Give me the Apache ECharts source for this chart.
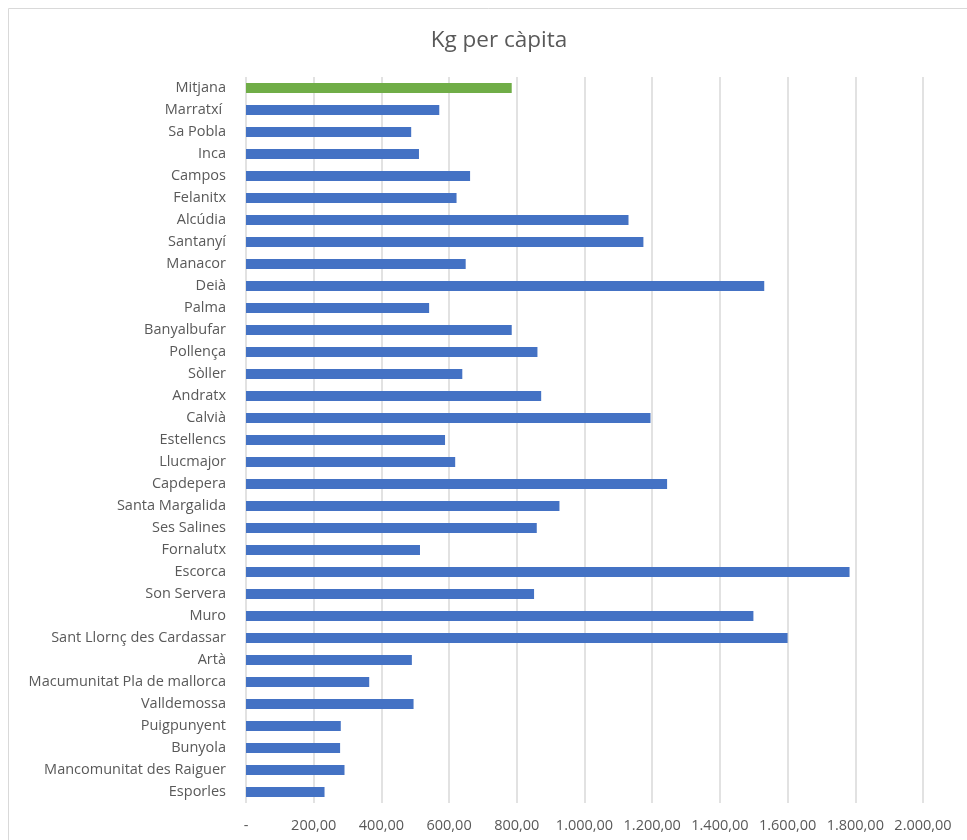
<!DOCTYPE html>
<html>
<head>
<meta charset="utf-8">
<script src="https://cdn.jsdelivr.net/npm/echarts@6/dist/echarts.min.js"></script>
<style>html,body{margin:0;padding:0;background:#fff}#c{width:967px;height:840px}</style>
</head>
<body>
<div id="c"></div>
<script>
const categories = ["Mitjana","Marratxí ","Sa Pobla","Inca","Campos","Felanitx","Alcúdia","Santanyí","Manacor","Deià","Palma","Banyalbufar","Pollença","Sòller","Andratx","Calvià","Estellencs","Llucmajor","Capdepera","Santa Margalida","Ses Salines","Fornalutx","Escorca","Son Servera","Muro","Sant Llornç des Cardassar","Artà","Macumunitat Pla de mallorca","Valldemossa","Puigpunyent","Bunyola","Mancomunitat des Raiguer","Esporles"];
const values = [785,571,488,511,662,622,1130,1174,649,1531,541,785,861,639,872,1195,588,618,1244,926,859,514,1783,851,1499,1600,490,364,495,280,278,291,232];
const highlight = "Mitjana";
const xTicks = [0,200,400,600,800,1000,1200,1400,1600,1800,2000];

const fmt = v => {
  if (v === 0) return '-';
  const s = v.toFixed(2).split('.');
  return s[0].replace(/\B(?=(\d{3})+(?!\d))/g, '.') + ',' + s[1];
};
const font = '"Open Sans", "Noto Sans", sans-serif';
const chart = echarts.init(document.getElementById('c'));
chart.setOption({
  animation: false,
  textStyle: { fontFamily: font },
  title: { text: 'Kg per càpita', left: 494, textAlign: 'center', top: 24, textStyle: { fontSize: 22.5, fontWeight: 'normal', color: '#595959', fontFamily: font } },
  graphic: [{ type: 'rect', shape: { x: 8.5, y: 8.5, width: 1000, height: 1000 }, style: { fill: 'none', stroke: '#d9d9d9', lineWidth: 1 } }],
  grid: { left: 246, right: 44, top: 77, bottom: 37, containLabel: false },
  xAxis: {
    type: 'value', min: xTicks[0], max: xTicks[xTicks.length - 1], interval: xTicks[1] - xTicks[0],
    axisLine: { show: false }, axisTick: { show: false },
    splitLine: { show: true, lineStyle: { color: '#d9d9d9', width: 1.5 } },
    axisLabel: { formatter: fmt, color: '#595959', fontSize: 14.5, margin: 15 }
  },
  yAxis: {
    type: 'category', inverse: true, data: categories,
    axisLine: { show: false }, axisTick: { show: false },
    axisLabel: { color: '#595959', fontSize: 14.5, margin: 20 }
  },
  series: [{
    type: 'bar', barWidth: 10,
    data: values.map((v, i) => ({ value: v, itemStyle: { color: categories[i] === highlight ? '#70AD47' : '#4472C4' } }))
  }]
});
</script>
</body>
</html>
